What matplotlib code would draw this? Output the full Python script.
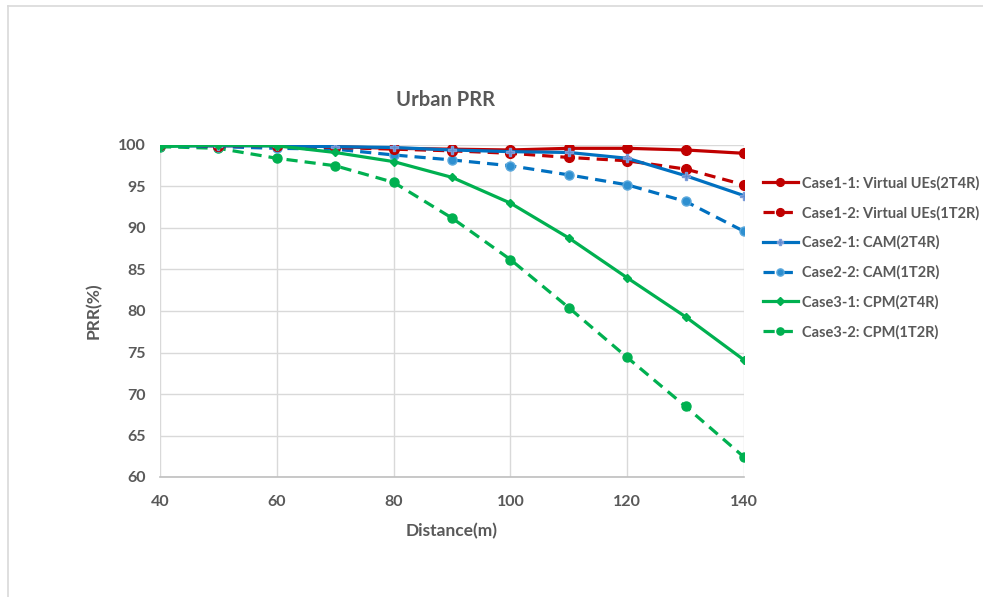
import matplotlib
matplotlib.use("Agg")
import matplotlib.pyplot as plt
from matplotlib.lines import Line2D

distance = [40, 50, 60, 70, 80, 90, 100, 110, 120, 130, 140]
case1_1 = [100.0, 99.9, 100.0, 99.8, 99.6, 99.5, 99.4, 99.6, 99.6, 99.4, 99.0]
case1_2 = [100.0, 99.9, 99.9, 99.7, 99.5, 99.3, 99.0, 98.5, 98.1, 97.1, 95.2]
case2_1 = [99.9, 99.9, 99.9, 99.8, 99.7, 99.4, 99.2, 99.1, 98.4, 96.3, 93.9]
case2_2 = [99.9, 99.8, 99.6, 99.5, 98.8, 98.2, 97.5, 96.4, 95.2, 93.2, 89.6]
case3_1 = [99.8, 100.0, 99.9, 99.1, 98.0, 96.1, 93.0, 88.8, 84.0, 79.3, 74.1]
case3_2 = [99.8, 99.6, 98.4, 97.5, 95.5, 91.2, 86.2, 80.4, 74.4, 68.5, 62.4]

labels = ["Case1-1: Virtual UEs(2T4R)", "Case1-2: Virtual UEs(1T2R)",
          "Case2-1: CAM(2T4R)", "Case2-2: CAM(1T2R)",
          "Case3-1: CPM(2T4R)", "Case3-2: CPM(1T2R)"]
x_ticks = [40, 60, 80, 100, 120, 140]
y_ticks = [60, 65, 70, 75, 80, 85, 90, 95, 100]

plt.rcParams['font.family'] = ['Lato', 'DejaVu Sans']
grey = '#595959'

fig = plt.figure(figsize=(9.83, 5.97), dpi=100)
ax = fig.add_axes([160/983, 120/597, 584/983, 332/597])

red, blue, green = '#C00000', '#0070C0', '#00B050'
lw = 2.3
dash = (0, (3.5, 2.2))
ax.plot(distance, case1_1, color=red, lw=lw, marker='o', ms=7, label=labels[0], zorder=6)
ax.plot(distance, case1_2, color=red, lw=lw, ls=dash, marker='o', ms=7, label=labels[1], zorder=5)
ax.plot(distance, case2_1, color=blue, lw=lw, marker='P', ms=5.5, mfc='#5B8BD0', mec='#7B9BD8', label=labels[2], zorder=7)
ax.plot(distance, case2_2, color=blue, lw=lw, ls=dash, marker='o', ms=6.5, mfc='#2E8FD0', mec='#5BA8DC', label=labels[3], zorder=4)
ax.plot(distance, case3_1, color=green, lw=lw, marker='D', ms=4.5, label=labels[4], zorder=8)
ax.plot(distance, case3_2, color=green, lw=lw, ls=dash, marker='o', ms=6.5, label=labels[5], zorder=3)

ax.set_xlim(40, 140)
ax.set_ylim(60, 100)
ax.set_xticks(x_ticks)
ax.set_yticks(y_ticks)
ax.grid(True, color='#D9D9D9', lw=1.0)
ax.set_axisbelow(True)
for s in ['top', 'right', 'left']:
    ax.spines[s].set_visible(False)
ax.spines['bottom'].set_color('#BFBFBF')
ax.spines['bottom'].set_linewidth(1.2)
ax.tick_params(length=0, colors=grey, labelsize=11.5)
ax.tick_params(axis='x', pad=13)
ax.tick_params(axis='y', pad=10)
for t in ax.get_xticklabels() + ax.get_yticklabels():
    t.set_fontweight('bold')

ax.set_xlabel('Distance(m)', fontsize=12.5, color=grey, fontweight='bold', labelpad=10)
ax.set_ylabel('PRR(%)', fontsize=12.5, color=grey, fontweight='bold', labelpad=12)
fig.text(446/983, 1 - 100/597, 'Urban PRR', ha='center', va='center',
         fontsize=14.5, color=grey, fontweight='bold')

leg = fig.legend(loc='upper left', bbox_to_anchor=(757/983, 1 - 170/597),
                 frameon=False, fontsize=10.5, labelspacing=1.05,
                 handlelength=2.4, handletextpad=0.3, borderaxespad=0,
                 markerscale=0.8)
for t in leg.get_texts():
    t.set_color(grey)
    t.set_fontweight('bold')

border = '#D9D9D9'
fig.add_artist(Line2D([7.5/983, 7.5/983], [0, 1 - 5.5/597], transform=fig.transFigure,
                      color=border, lw=1.2))
fig.add_artist(Line2D([7.5/983, 1], [1 - 5.5/597, 1 - 5.5/597], transform=fig.transFigure,
                      color=border, lw=1.2))

fig.savefig('out.png', dpi=100)
